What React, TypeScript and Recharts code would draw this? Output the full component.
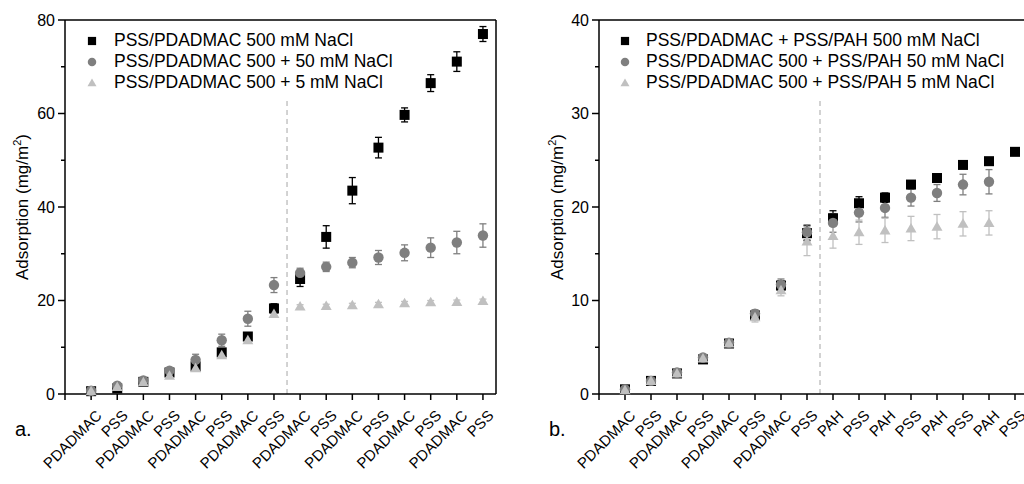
import React from "react";
import { ScatterChart, Scatter, XAxis, YAxis, ErrorBar, ReferenceLine } from "recharts";

const FONT = '"Liberation Sans", Arial, sans-serif';

const LEFT_LABELS = [
  "PDADMAC", "PSS", "PDADMAC", "PSS", "PDADMAC", "PSS", "PDADMAC", "PSS",
  "PDADMAC", "PSS", "PDADMAC", "PSS", "PDADMAC", "PSS", "PDADMAC", "PSS",
];
const RIGHT_LABELS = [
  "PDADMAC", "PSS", "PDADMAC", "PSS", "PDADMAC", "PSS", "PDADMAC", "PSS",
  "PAH", "PSS", "PAH", "PSS", "PAH", "PSS", "PAH", "PSS",
];

// panel a.
const A_500 = [0.6, 1.2, 2.6, 4.6, 5.9, 8.9, 12.3, 18.3, 24.6, 33.6, 43.5, 52.7, 59.7, 66.5, 71.1, 77.0];
const A_500_ERR = [0.2, 0.3, 0.3, 0.4, 0.4, 0.5, 0.5, 1.0, 1.6, 2.4, 2.8, 2.2, 1.5, 1.8, 2.1, 1.6];
const A_50 = [0.7, 1.8, 2.9, 5.0, 7.3, 11.5, 16.1, 23.3, 25.9, 27.2, 28.1, 29.2, 30.2, 31.3, 32.4, 33.9];
const A_50_ERR = [0.3, 0.4, 0.5, 0.6, 1.2, 1.3, 1.6, 1.6, 1.0, 1.0, 1.1, 1.5, 1.7, 2.1, 2.4, 2.5];
const A_5 = [0.6, 1.5, 2.5, 3.9, 5.5, 8.3, 11.5, 17.1, 18.7, 18.8, 19.0, 19.2, 19.4, 19.6, 19.7, 19.9];
const A_5_ERR = [0.3, 0.3, 0.3, 0.4, 0.4, 0.5, 0.6, 0.7, 0.4, 0.4, 0.4, 0.4, 0.4, 0.4, 0.4, 0.4];

// panel b.
const B_500 = [0.5, 1.4, 2.2, 3.7, 5.4, 8.4, 11.6, 17.2, 18.8, 20.4, 21.0, 22.4, 23.1, 24.5, 24.9, 25.9];
const B_500_ERR = [0.3, 0.3, 0.3, 0.3, 0.3, 0.4, 0.5, 0.8, 0.8, 0.7, 0.5, 0.3, 0.3, 0.3, 0.3, 0.3];
const B_50 = [0.5, 1.4, 2.3, 3.9, 5.5, 8.6, 11.7, 17.3, 18.3, 19.4, 19.9, 21.0, 21.5, 22.4, 22.7];
const B_50_ERR = [0.2, 0.2, 0.3, 0.3, 0.3, 0.4, 0.6, 0.8, 1.0, 1.0, 1.0, 0.9, 0.9, 1.1, 1.3];
const B_5 = [0.4, 1.4, 2.2, 3.8, 5.4, 8.2, 11.1, 16.3, 16.9, 17.3, 17.5, 17.7, 17.9, 18.2, 18.3];
const B_5_ERR = [0.2, 0.2, 0.3, 0.3, 0.3, 0.5, 0.6, 1.5, 1.3, 1.3, 1.3, 1.3, 1.3, 1.3, 1.3];

const LEGEND_A = ["PSS/PDADMAC 500 mM NaCl", "PSS/PDADMAC 500 + 50 mM NaCl", "PSS/PDADMAC 500 + 5 mM NaCl"];
const LEGEND_B = [
  "PSS/PDADMAC + PSS/PAH 500 mM NaCl",
  "PSS/PDADMAC 500 + PSS/PAH 50 mM NaCl",
  "PSS/PDADMAC 500 + PSS/PAH 5 mM NaCl",
];

const COLORS = ["#000000", "#7f7f7f", "#c0c0c0"];
const SHAPES = ["square", "circle", "triangle"];

const X_TICKS = [0, 1, 2, 3, 4, 5, 6, 7, 8, 9, 10, 11, 12, 13, 14, 15, 16];

const rows = (vals: number[], errs: number[]) => vals.map((y, i) => ({ x: i + 1, y, e: errs[i] }));

function Marker({ kind, cx, cy, fill, s = 1 }: any) {
  if (kind === "square") return <rect x={cx - 5 * s} y={cy - 5 * s} width={10 * s} height={10 * s} fill={fill} />;
  if (kind === "circle") return <circle cx={cx} cy={cy} r={5.2 * s} fill={fill} />;
  return (
    <polygon
      points={`${cx},${cy - 5.5 * s} ${cx + 5.5 * s},${cy + 4 * s} ${cx - 5.5 * s},${cy + 4 * s}`}
      fill={fill}
    />
  );
}

function YTick({ x, y, payload, major }: any) {
  const isMajor = payload.value % major === 0;
  return (
    <g>
      <line x1={x - (isMajor ? 7 : 4)} y1={y} x2={x} y2={y} stroke="#000" strokeWidth={1.5} />
      {isMajor && (
        <text x={x - 10} y={y} dy="0.36em" textAnchor="end" fontSize={16} fontFamily={FONT} fill="#000">
          {payload.value}
        </text>
      )}
    </g>
  );
}

function Panel({ labels, series, yMax, yStep, major, dashTop, legend, tag, labelX, tagX }: any) {
  const yTicks: number[] = [];
  for (let v = 0; v <= yMax; v += yStep) yTicks.push(v);
  return (
    <div style={{ position: "relative", width: "100%", height: "100%" }}>
      <ScatterChart width={520} height={484} margin={{ top: 20, right: 4, left: 0, bottom: 10 }}>
        <XAxis
          type="number"
          dataKey="x"
          domain={[0, 16.5]}
          ticks={X_TICKS}
          interval={0}
          height={80}
          tickSize={6}
          tickMargin={9}
          angle={-45}
          textAnchor="end"
          tickFormatter={(v: number) => (v >= 1 ? labels[v - 1] : "")}
          tickLine={{ stroke: "#000", strokeWidth: 1.5 }}
          axisLine={{ stroke: "#000", strokeWidth: 1.5 }}
          tick={{ fontSize: 15, fill: "#000", fontFamily: FONT, dx: 4 }}
          allowDataOverflow
        />
        <YAxis
          type="number"
          dataKey="y"
          domain={[0, yMax]}
          ticks={yTicks}
          interval={0}
          width={labelX.width}
          tickSize={0}
          tickMargin={0}
          tickLine={false}
          axisLine={{ stroke: "#000", strokeWidth: 1.5 }}
          tick={<YTick major={major} />}
          label={() => (
            <g transform={`translate(${labelX.x},207)`}>
              <text x={0} y={0} textAnchor="middle" fontSize={17} fontFamily={FONT} fill="#000" transform="rotate(-90)">
                <tspan>Adsorption (mg/m</tspan>
                <tspan dy={-7} fontSize={11}>2</tspan>
                <tspan dy={7}>)</tspan>
              </text>
            </g>
          )}
        />
        <ReferenceLine y={yMax} stroke="#000" strokeWidth={1.5} />
        <ReferenceLine x={16.5} stroke="#000" strokeWidth={1.5} />
        <ReferenceLine
          segment={[{ x: 8.5, y: 0 }, { x: 8.5, y: dashTop }]}
          stroke="#c4c4c4"
          strokeWidth={1.5}
          strokeDasharray="5 4"
        />
        {series.map((s: any, i: number) => (
          <Scatter
            key={i}
            data={s}
            fill={COLORS[i]}
            isAnimationActive={false}
            shape={(p: any) => <Marker kind={SHAPES[i]} cx={p.cx} cy={p.cy} fill={COLORS[i]} />}
          >
            <ErrorBar dataKey="e" direction="y" width={3.5} stroke={COLORS[i]} strokeWidth={1.3} />
          </Scatter>
        ))}
      </ScatterChart>
      <div style={{ position: "absolute", left: legend.x, top: 30, fontFamily: FONT, fontSize: 17.5 }}>
        {legend.items.map((t: string, i: number) => (
          <div key={i} style={{ display: "flex", alignItems: "center", height: 21 }}>
            <svg width={16} height={16} style={{ marginRight: legend.gap }}>
              <Marker kind={SHAPES[i]} cx={8} cy={8} fill={COLORS[i]} s={0.82} />
            </svg>
            <span style={{ whiteSpace: "nowrap" }}>{t}</span>
          </div>
        ))}
      </div>
      <div style={{ position: "absolute", left: tagX, top: 418, fontFamily: FONT, fontSize: 20 }}>{tag}</div>
    </div>
  );
}

export default function App() {
  return (
    <div
      style={{
        position: "absolute",
        left: 0,
        top: 0,
        width: 1024,
        height: 484,
        overflow: "hidden",
        background: "#fff",
      }}
    >
      <div style={{ position: "absolute", left: -20, top: 0, width: 520, height: 484 }}>
        <Panel
          labels={LEFT_LABELS}
          series={[rows(A_500, A_500_ERR), rows(A_50, A_50_ERR), rows(A_5, A_5_ERR)]}
          yMax={80}
          yStep={10}
          major={20}
          dashTop={63}
          legend={{ x: 104, items: LEGEND_A, gap: 14 }}
          tag="a."
          tagX={35}
          labelX={{ width: 85, x: 48 }}
        />
      </div>
      <div style={{ position: "absolute", left: 512, top: 0, width: 520, height: 484 }}>
        <Panel
          labels={RIGHT_LABELS}
          series={[rows(B_500, B_500_ERR), rows(B_50, B_50_ERR), rows(B_5, B_5_ERR)]}
          yMax={40}
          yStep={5}
          major={10}
          dashTop={31.5}
          legend={{ x: 105, items: LEGEND_B, gap: 13 }}
          tag="b."
          tagX={37}
          labelX={{ width: 87, x: 51 }}
        />
      </div>
    </div>
  );
}
